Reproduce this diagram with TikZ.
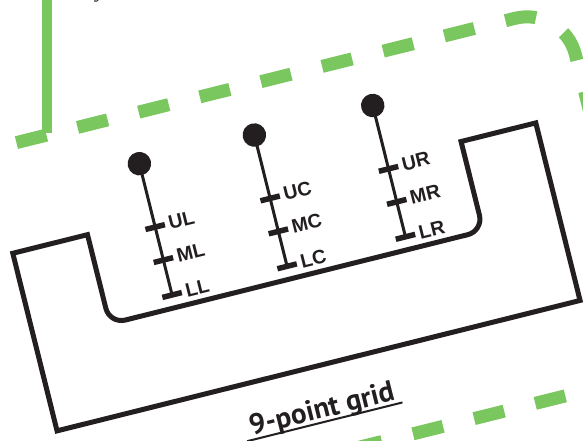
\documentclass[tikz,border=0pt]{standalone}
\usepackage{fontspec}
\setmainfont{Liberation Sans}
\newfontfamily\gridfont{PT Sans}
\newfontfamily\serifpart{Liberation Serif}
\definecolor{ink}{HTML}{231F20}
\definecolor{leaf}{RGB}{121,199,94}
\begin{document}
\begin{tikzpicture}[x=1pt,y=1pt,
  tray/.style={draw=ink, line width=5pt, line join=miter},
  greendash/.style={draw=leaf, line width=13pt, dash pattern=on 31pt off 32pt},
  stick/.style={draw=ink, line width=3pt},
  tickbar/.style={draw=ink, line width=5.5pt},
  knob/.style={circle, fill=ink, minimum size=23.5pt, inner sep=0pt},
  lbl/.style={font=\bfseries\fontsize{19.5}{19.5}\selectfont, text=ink, anchor=base west, inner sep=0pt},
  titlelbl/.style={font=\gridfont\bfseries\fontsize{29}{29}\selectfont, text=ink, anchor=base, inner sep=0pt},
]
\useasboundingbox (0,0) rectangle (583,441);
\fill[white] (0,0) rectangle (583,441);
\clip (0,0) rectangle (583,441);

% fragment of text above the crop
\node[font=\serifpart\itshape\fontsize{22}{22}\selectfont, text=ink, anchor=base, inner sep=0pt] (frag) at (101,443) {y};

% solid vertical green line (not rotated)
\draw[leaf, line width=10.5pt] (47,460) -- (47,308);

\begin{scope}[shift={(291,221)}, rotate=14, transform shape]
  % green dashed frame
  \draw[greendash] (-436.7,141.5) -- (266,141.5) arc[start angle=90, end angle=0, radius=50] -- (316,-400);
  \draw[greendash] (412.6,-237) -- (-450,-237);

  % tray
  \draw[tray] (-201,35) -- (-278,35) -- (-278,-148) -- (261,-148) -- (261,35) -- (184,35)
     -- (184,-41) arc[start angle=0, end angle=-90, radius=16]
     -- (-185,-57) arc[start angle=-90, end angle=-180, radius=16] -- cycle;

  % pendants
  \foreach \x/\n/\u/\m/\l in {-133.5/L/UL/ML/LL, -15/C/UC/MC/LC, 107/R/UR/MR/LR}{
    \node[knob] (dot\n) at (\x,91.3) {};
    \coordinate (low\n) at (\x,-44);
    \draw[stick] (dot\n.center) -- (low\n);
    \draw[tickbar] (\x-10,26) -- (\x+10,26);
    \draw[tickbar] (\x-10,-8) -- (\x+10,-8);
    \draw[tickbar] (\x-10,-44) -- (\x+10,-44);
    \node[lbl] (u\n) at (\x+14,20) {\u};
    \node[lbl] (m\n) at (\x+14,-14) {\m};
    \node[lbl] (l\n) at (\x+14,-50) {\l};
  }

  % title
  \node[titlelbl] (title) at (-16,-200) {9-point grid};
  \draw[ink, line width=2pt] (-96,-204) -- (64,-204);
\end{scope}
\end{tikzpicture}
\end{document}
